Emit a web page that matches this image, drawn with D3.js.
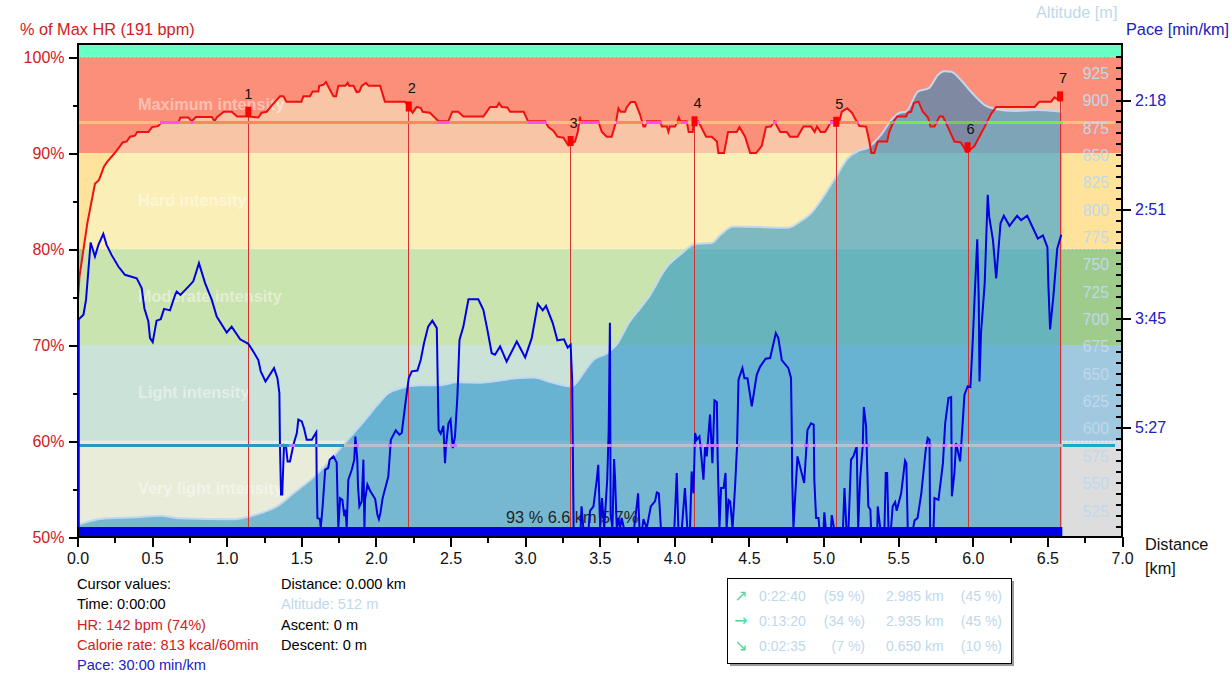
<!DOCTYPE html>
<html>
<head>
<meta charset="utf-8">
<script src="https://cdnjs.cloudflare.com/ajax/libs/d3/7.8.5/d3.min.js"></script>
<style>
	html, body { margin: 0; padding: 0; background: #fff; overflow: hidden; }
	text { font-family: "Liberation Sans", Arial, sans-serif; font-size: 14.6px; }
	.axis path { display: none; }
	.axis line { stroke: #000; stroke-width: 2px; shape-rendering: crispEdges; }
	.axis text { font-size: 16px; }
	.big { font-size: 16.3px; }
	.box text { font-size: 14px; }
</style>
</head>
<body>
<div id="chart"></div>
<script>
// heart rate, % of max : [km, %]
var hrKm = [0,.013,.066,.117,.144,.178,.2,.25,.303,.33,.352,.385,.40,.475,.5,.54,.564,.676,.69,.743,.765,.794,.9,.918,.933,.98,1.033,1.07,1.145,1.212,1.234,1.268,1.30,1.357,1.38,1.40,1.50,1.514,1.558,1.576,1.614,1.62,1.648,1.665,1.715,1.733,1.748,1.795,1.81,1.82,1.85,1.87,1.889,1.905,1.934,1.95,2.028,2.06,2.195,2.22,2.246,2.273,2.30,2.313,2.362,2.419,2.485,2.512,2.552,2.586,2.72,2.765,2.81,2.825,2.843,2.88,2.90,2.99,3.02,3.134,3.156,3.19,3.216,3.256,3.29,3.334,3.353,3.368,3.372,3.49,3.514,3.547,3.58,3.61,3.625,3.64,3.67,3.68,3.708,3.737,3.77,3.793,3.804,3.815,3.905,3.916,3.95,3.96,3.97,4.005,4.02,4.03,4.04,4.083,4.096,4.123,4.132,4.16,4.213,4.25,4.285,4.295,4.333,4.36,4.418,4.436,4.474,4.508,4.548,4.586,4.614,4.647,4.67,4.71,4.753,4.775,4.825,4.865,4.916,4.94,4.956,4.98,5.01,5.032,5.05,5.106,5.122,5.158,5.19,5.207,5.24,5.285,5.307,5.32,5.34,5.363,5.426,5.44,5.47,5.493,5.553,5.564,5.587,5.605,5.636,5.665,5.70,5.716,5.743,5.777,5.80,5.83,5.877,5.92,5.96,6.01,6.08,6.124,6.157,6.414,6.447,6.525,6.547,6.58,6.596];
var hrPct = [74,77.1,82.7,86.8,87.2,88.6,89.1,90,91.1,91.2,91.7,91.8,92.2,92.2,92.7,92.8,93.2,93.2,93.7,93.7,93.3,93.75,93.75,93.3,93.7,94.3,94.3,93.8,93.8,93.7,94.2,94.3,94.9,95.9,95.9,95.35,95.35,95.9,95.9,96.4,96.4,97,97.1,97.4,95.9,95.9,97,97,97.3,97,97,96.35,96.4,97,97.3,97,97,95.35,95.35,94.8,94.2,94.8,94.7,94.3,94.2,93.3,93.3,94.3,94.3,93.8,93.8,94.8,94.8,95.2,94.8,94.75,94.3,94.3,93.3,93.3,92.7,92.3,91.7,91.6,90.8,91.2,92.2,93.8,93.3,93.3,92.2,91.7,91.7,93.3,94.65,94.3,94.3,94.75,95.3,95.3,94,92.75,92.75,93.3,93.3,92.75,92.75,92.2,92.75,92.75,93.3,93.7,93.3,93.3,92.2,92.2,93.3,93.3,91.7,91.7,91.2,90,90,92.2,92.2,92.7,91.7,90,90,90.75,92.7,92.75,93.3,92.2,92.2,91.7,91.7,92.75,92.75,92.2,92.75,92.2,92.2,92.75,93.3,93.3,94.3,94.65,94.2,93.7,92.8,92.75,91.2,90,90,91.2,91.2,92.2,93.3,93.8,93.8,94.2,94.3,95.2,95.35,94.3,93.7,92.75,92.75,93.8,93.8,92.8,91.2,91.1,90.1,90.7,92.75,94.1,94.8,94.8,95.35,95.35,95.8,95.5,95.9];

// altitude, m
var altKm = [0,.084,.195,.397,.553,.688,1.045,1.145,1.245,1.335,1.446,1.60,1.76,1.85,1.938,2.01,2.083,2.16,2.296,2.43,2.54,2.70,2.92,3.055,3.167,3.31,3.41,3.457,3.547,3.613,3.70,3.77,3.826,3.949,4.05,4.139,4.25,4.306,4.395,4.764,4.842,4.916,4.983,5.084,5.16,5.23,5.296,5.386,5.452,5.51,5.553,5.63,5.71,5.766,5.81,5.855,5.92,5.99,6.08,6.147,6.28,6.44,6.596];
var altM = [512,515.9,518.3,519.2,520.7,518.3,517.4,519.8,523.8,529,541,558,582,596,610,622,632.6,637,640,640,642.6,642.3,646,647,643,639,655,663,669,677,698,710,720,748,760.5,769,770,777,785,784,789.5,797,809,830.6,847,854,857,869,882,889,890,908,912,923.5,927,926.6,919,908,896,892.5,890.6,891.5,890];

// speed, km/h (the pace axis is linear in speed)
var speedKm = [0,.002,.005,.04,.057,.088,.117,.14,.173,.195,.229,.274,.318,.397,.43,.44,.448,.475,.486,.504,.53,.558,.58,.62,.654,.665,.69,.743,.776,.814,.855,.90,.933,1.0,1.033,1.09,1.145,1.178,1.212,1.228,1.26,1.317,1.34,1.353,1.357,1.364,1.372,1.384,1.397,1.408,1.424,1.447,1.47,1.48,1.503,1.518,1.536,1.57,1.6,1.603,1.608,1.625,1.63,1.643,1.66,1.68,1.69,1.715,1.737,1.744,1.748,1.76,1.775,1.788,1.797,1.804,1.815,1.838,1.855,1.862,1.875,1.88,1.889,1.905,1.916,1.923,1.927,1.943,1.96,1.995,2.01,2.02,2.03,2.045,2.083,2.1,2.133,2.157,2.173,2.195,2.22,2.24,2.278,2.30,2.322,2.35,2.378,2.408,2.414,2.42,2.434,2.452,2.463,2.47,2.486,2.5,2.515,2.53,2.546,2.56,2.586,2.62,2.686,2.72,2.747,2.776,2.798,2.832,2.876,2.944,3.0,3.044,3.085,3.118,3.14,3.185,3.216,3.26,3.285,3.305,3.315,3.325,3.372,3.378,3.39,3.425,3.435,3.458,3.48,3.49,3.503,3.515,3.53,3.55,3.56,3.568,3.573,3.585,3.596,3.603,3.614,3.625,3.636,3.647,3.662,3.73,3.739,3.757,3.766,3.785,3.793,3.815,3.842,3.87,3.883,3.896,3.91,4.0,4.016,4.027,4.05,4.071,4.087,4.105,4.116,4.128,4.139,4.15,4.168,4.184,4.195,4.206,4.217,4.239,4.255,4.269,4.285,4.29,4.302,4.313,4.33,4.343,4.35,4.363,4.374,4.39,4.407,4.42,4.43,4.456,4.47,4.49,4.519,4.552,4.575,4.612,4.642,4.68,4.697,4.72,4.764,4.782,4.787,4.79,4.798,4.825,4.87,4.892,4.916,4.934,4.938,4.95,4.966,4.972,5.0,5.005,5.015,5.05,5.055,5.07,5.13,5.14,5.153,5.167,5.184,5.2,5.222,5.232,5.245,5.262,5.27,5.285,5.3,5.314,5.318,5.36,5.363,5.38,5.408,5.417,5.426,5.435,5.452,5.463,5.48,5.49,5.52,5.546,5.555,5.564,5.6,5.61,5.63,5.655,5.687,5.698,5.71,5.714,5.737,5.743,5.77,5.8,5.815,5.837,5.855,5.86,5.877,5.888,5.915,5.933,5.944,5.966,5.984,6.0,6.016,6.03,6.04,6.045,6.055,6.08,6.1,6.11,6.135,6.157,6.186,6.208,6.246,6.297,6.324,6.365,6.436,6.47,6.5,6.507,6.518,6.54,6.566,6.593];
var speedKmh = [6,15.94,15.94,16.17,16.85,19.48,18.84,19.37,19.87,19.37,18.9,18.38,18,17.84,17.39,16.9,16.47,15.86,15.1,14.92,15.9,15.97,16.44,16.37,17.08,17.23,17.08,17.46,17.7,18.53,17.62,16.85,16.09,15.36,15.63,15.05,14.84,14.49,14.1,13.58,13.12,13.73,13.27,12.59,10.15,7.94,7.94,10.2,10.15,9.46,9.46,10.22,10.76,11.37,11.29,10.98,10.45,10.45,10.79,8.77,6.87,6.82,6.4,7.4,9.08,9.15,9.54,9.69,9.41,7.4,6.4,7.78,7.7,6.95,7.25,6.4,8.62,9.08,9.54,10.6,9.54,8.32,7.4,7.63,9.54,6.4,7.7,8.4,8.13,7.74,7.02,6.82,7.1,7.78,8.77,10.45,10.88,10.68,10.76,11.98,13.27,13.58,13.62,14.1,14.87,15.63,15.9,15.56,13.2,10.9,10.73,11.09,9.38,10.22,11.2,11.37,10.07,10.6,12.43,15.02,15.63,16.88,16.88,16.4,15.48,14.41,14.34,14.72,14.03,14.95,14.22,15.1,16.67,16.37,16.58,15.79,15,15.05,14.67,14.8,13.2,6.4,6.4,7.4,6.4,6.4,7.2,7.4,8.62,9.3,6.4,7.78,6.4,8.62,10.9,15.8,7,6.4,9.57,8.62,6.4,6.87,6.4,6.87,6.4,6.4,6.87,8,6.4,6.4,6.82,6.4,7.4,7.63,8.04,8,6.4,6.4,8.93,6.4,6.4,8.24,6.4,6.4,9,8,10.76,10.45,10.6,9.46,8.62,10.15,9.69,11.6,9.38,12.25,12.17,9.7,6.4,8.24,8.24,8.93,6.4,7.7,7.63,6.4,8.32,10.15,13.2,13.73,13.27,13.27,11.98,13.42,13.8,14.16,14.19,15.33,15.1,14.1,13.73,13.27,10.9,8.62,6.4,9.69,8.47,10.9,11.2,11.14,8.62,6.87,6.87,6.4,6.4,7.13,6.4,6.4,7,6.4,6.4,8.24,6.4,6.4,9.54,9.69,10.15,6.4,8.62,10.15,11.95,11.06,7.4,7.25,6.4,6.4,7.4,6.4,6.4,8.93,8.93,6.4,6.4,7.4,7.6,7.2,8,9.5,9.38,6.4,6.4,6.76,6.87,8,10.15,10.53,10.45,6.4,6.4,7.78,7.7,9.38,11.2,12.36,12.4,7.86,8.93,10.3,9.46,11.29,12.5,12.9,12.86,15.02,17.54,19.63,16.85,13.12,15.33,17.62,21.66,20.66,19.6,17.84,20.36,20.7,20.24,20.7,20.5,20.7,19.66,19.8,19.26,17.46,15.5,17,19.2,19.83];

// laps
var lapKm = [1.145, 2.22, 3.305, 4.135, 5.085, 5.965, 6.585];
var lapHr = [94.3, 94.85, 91.25, 93.3, 93.25, 90.6, 95.9];
var lapNames = ['1', '2', '3', '4', '5', '6', '7'];

// zones
var zoneTop = [101.4, 100, 90, 80, 70, 60];
var zoneBottom = [100, 90, 80, 70, 60, 50];
var zoneColors = ['#66ffc4', '#fb8f79', '#ffe39b', '#9fcc8c', '#a0c9df', '#dddddd'];
var zoneNames = ['Maximum intensity', 'Hard intensity', 'Moderate intensity', 'Light intensity', 'Very light intensity'];
var zoneNameHr = [95, 85, 75, 65, 55];
var dashedHr = [100, 80, 60];

var upperHr = 93.18, lowerHr = 59.58, endKm = 6.6;

// axes
var kmTicks = [0, .5, 1, 1.5, 2, 2.5, 3, 3.5, 4, 4.5, 5, 5.5, 6, 6.5, 7];
var kmMinor = [.25, .75, 1.25, 1.75, 2.25, 2.75, 3.25, 3.75, 4.25, 4.75, 5.25, 5.75, 6.25, 6.75];
var hrTicks = [50, 60, 70, 80, 90, 100];
var hrMinor = [55, 65, 75, 85, 95];
var altTicks = [525, 550, 575, 600, 625, 650, 675, 700, 725, 750, 775, 800, 825, 850, 875, 900, 925];
var speedTicks = [11, 16, 21, 26];
var paceLabels = ['5:27', '3:45', '2:51', '2:18'];

// bottom texts
var cursorLines = ['Cursor values:', 'Time: 0:00:00', 'HR: 142 bpm (74%)', 'Calorie rate: 813 kcal/60min', 'Pace: 30:00 min/km'];
var cursorColors = ['#000', '#000', '#d02020', '#d02020', '#2020c0'];
var statLines = ['Distance: 0.000 km', 'Altitude: 512 m', 'Ascent: 0 m', 'Descent: 0 m'];
var statColors = ['#000', '#c0d8ec', '#000', '#000'];
var slopeTime = ['0:22:40', '0:13:20', '0:02:35'];
var slopeTimePct = ['(59 %)', '(34 %)', '(7 %)'];
var slopeDist = ['2.985 km', '2.935 km', '0.650 km'];
var slopeDistPct = ['(45 %)', '(45 %)', '(10 %)'];
var slopeArrows = ['\u2197', '\u2192', '\u2198'];

var W = 1231, H = 677
	, x = d3.scaleLinear().domain([0, 7]).range([77.5, 1122])
	, y = d3.scaleLinear().domain([50, 100]).range([537, 57])
	, yAlt = d3.scaleLinear().domain([525, 925]).range([511, 73.4])
	, ySpeed = d3.scaleLinear().domain([6, 26]).range([537, 100])
	, lightBlue = '#c0d8ec'
	, red = '#d02020'
	, blue = '#2020c0'
	, hrWash = [245, 252, 212]
	, altWash = [4, 132, 202]
	;

var svg = d3.select('#chart').append('svg').attr('width', W).attr('height', H);
svg.append('defs').append('clipPath').attr('id', 'plot').append('rect')
	.attr('x', x(0)).attr('y', y(101.4)).attr('width', x(7) - x(0)).attr('height', y(50) - y(101.4));
var plot = svg.append('g').attr('clip-path', 'url(#plot)');

// zone bands
plot.selectAll('.zone').data(zoneColors).enter().append('rect').attr('class', 'zone')
	.attr('x', x(0)).attr('width', x(7) - x(0))
	.attr('y', function(d, i){ return y(zoneTop[i]); })
	.attr('height', function(d, i){ return y(zoneBottom[i]) - y(zoneTop[i]); })
	.attr('fill', function(d){ return d; });
plot.selectAll('.dash').data(dashedHr).enter().append('line').attr('class', 'dash')
	.attr('x1', x(0)).attr('x2', x(7)).attr('y1', function(d){ return y(d); }).attr('y2', function(d){ return y(d); })
	.attr('stroke', '#fff').attr('stroke-opacity', .6).attr('stroke-dasharray', '2 2');

// area under the HR curve
var hrRows = d3.zip(hrKm, hrPct), altRows = d3.zip(altKm, altM), speedRows = d3.zip(speedKm, speedKmh);
var hrArea = d3.area().x(function(d){ return x(d[0]); }).y0(y(50)).y1(function(d){ return y(d[1]); });
plot.append('path').attr('d', hrArea(hrRows)).attr('fill', 'rgb(' + hrWash + ')').attr('fill-opacity', .5);

// zone names
plot.selectAll('.zname').data(zoneNames).enter().append('text').attr('class', 'zname big')
	.attr('x', 138).attr('y', function(d, i){ return y(zoneNameHr[i]) + 5; })
	.attr('fill', '#fff').attr('fill-opacity', .45).style('font-weight', 'bold')
	.text(function(d){ return d; });

// altitude
var altArea = d3.area().curve(d3.curveMonotoneX).x(function(d){ return x(d[0]); }).y0(y(50)).y1(function(d){ return yAlt(d[1]); });
plot.append('path').attr('d', altArea(altRows)).attr('fill', 'rgb(' + altWash + ')').attr('fill-opacity', .5);
plot.append('path').attr('d', d3.line().curve(d3.curveMonotoneX).x(function(d){ return x(d[0]); }).y(function(d){ return yAlt(d[1]); })(altRows))
	.attr('fill', 'none').attr('stroke', '#c0d8f0').attr('stroke-width', 2);

// lap lines, snapped to an even pixel so a 1px red line keeps its colour
var lapX = function(d){ return Math.round(x(d) / 2) * 2 + .5; };
plot.selectAll('.lap').data(lapKm).enter().append('line').attr('class', 'lap')
	.attr('x1', lapX).attr('x2', lapX)
	.attr('y1', function(d, i){ return y(lapHr[i]); }).attr('y2', y(50) - 10)
	.attr('stroke', '#d83030').attr('stroke-width', 1);

plot.append('text').attr('class', 'big').attr('x', 506).attr('y', 523).attr('fill', '#222').text('93 % 6.6 km 5.7%');

// speed and heart rate lines
plot.append('path').attr('d', d3.line().x(function(d){ return x(d[0]); }).y(function(d){ return ySpeed(d[1]); })(speedRows))
	.attr('fill', 'none').attr('stroke', '#0000e0').attr('stroke-width', 2);
plot.append('rect').attr('x', x(0)).attr('width', x(endKm) - x(0)).attr('y', y(50) - 10).attr('height', 10).attr('fill', '#0000e6');
plot.append('path').attr('d', d3.line().x(function(d){ return x(d[0]); }).y(function(d){ return y(d[1]); })(hrRows))
	.attr('fill', 'none').attr('stroke', '#f01010').attr('stroke-width', 2);

// the two limit lines are XOR pens in the original: recompute the colour under each pixel
var bisect = d3.bisector(function(d){ return d[0]; }).left;
function valueAt(rows, km){
	var i = bisect(rows, km);
	if( i <= 0 ) return rows[0][1];
	if( i >= rows.length ) return rows[rows.length - 1][1];
	var a = rows[i - 1], b = rows[i];
	return a[1] + (b[1] - a[1]) * (km - a[0]) / (b[0] - a[0]);
}
function mix(under, over, alpha){
	return under.map(function(c, i){ return c * (1 - alpha) + over[i] * alpha; });
}
function xorColor(c, mask){
	return 'rgb(' + c.map(function(v, i){ return Math.round(v) ^ mask[i]; }).join(',') + ')';
}
function penColor(km, hr, mask, zone){
	var c = d3.color(zoneColors[zone]);
	c = [c.r, c.g, c.b];
	if( km <= endKm && valueAt(hrRows, km) > hr ) c = mix(c, hrWash, .5);
	if( km <= endKm && valueAt(altRows, km) > yAlt.invert(y(hr)) ) c = mix(c, altWash, .5);
	return xorColor(c, mask);
}
function drawPen(hr, mask, zone, lineColor, crossings){
	var pixels = d3.range(Math.ceil(x(0)) + 1, 1115);
	plot.append('g').attr('shape-rendering', 'crispEdges').selectAll('rect').data(pixels).enter().append('rect')
		.attr('x', function(d){ return d; }).attr('y', Math.round(y(hr)) - 1).attr('width', 1).attr('height', 3)
		.attr('fill', function(d){
			var km = x.invert(d);
			return km <= endKm && crossings(km) ? xorColor(lineColor, mask) : penColor(km, hr, mask, zone);
		});
}
drawPen(upperHr, [0, 0x4f, 0xf9], 1, [255, 0, 0], function(km){
	return Math.abs(valueAt(hrRows, km) - upperHr) < .2;
});
var lowerSpeed = ySpeed.invert(y(lowerHr));
drawPen(lowerHr, [0xc2, 0x7a, 0x1a], 5, [0, 0, 224], function(km){
	var step = 1 / 149.2;
	return speedRows.some(function(d, i){
		if( !i ) return false;
		var a = speedRows[i - 1];
		return a[0] <= km + step && d[0] >= km - step && (a[1] - lowerSpeed) * (d[1] - lowerSpeed) <= 0;
	});
});

// lap markers
plot.selectAll('.mark').data(lapKm).enter().append('rect').attr('class', 'mark')
	.attr('x', function(d){ return x(d) - 3; }).attr('y', function(d, i){ return y(lapHr[i]) - 5; })
	.attr('width', 6).attr('height', 10).attr('fill', '#ff0000');
svg.selectAll('.lapname').data(lapNames).enter().append('text').attr('class', 'lapname')
	.attr('x', function(d, i){ return x(lapKm[i]) + (i ? 3 : 0); }).attr('y', function(d, i){ return y(lapHr[i]) - 13; })
	.attr('text-anchor', 'middle').attr('fill', '#111').text(function(d){ return d; });

// altitude labels
svg.selectAll('.altlabel').data(altTicks).enter().append('text').attr('class', 'altlabel')
	.attr('x', 1109).attr('y', function(d){ return yAlt(d) + 5.5; }).attr('text-anchor', 'end')
	.attr('fill', lightBlue).style('font-size', '15.7px').text(function(d){ return d; });

// frame and axes
svg.append('rect').attr('x', x(0)).attr('y', y(101.4)).attr('width', x(7) - x(0)).attr('height', y(50) - y(101.4))
	.attr('fill', 'none').attr('stroke', '#000').attr('stroke-width', 2).attr('shape-rendering', 'crispEdges');

// the first speed sample runs straight up the left axis, over the frame
svg.append('line').attr('x1', x(0) + 1).attr('x2', x(0) + 1)
	.attr('y1', ySpeed(speedKmh[1])).attr('y2', y(50) - 10)
	.attr('stroke', '#0000e0').attr('stroke-width', 2.5);

var gLeft = svg.append('g').attr('class', 'axis').attr('transform', 'translate(' + x(0) + ',0)');
gLeft.call(d3.axisLeft(y).tickValues(hrTicks).tickSize(9).tickPadding(4).tickFormat(function(d){ return d + '%'; }));
gLeft.selectAll('text').attr('fill', red);
svg.append('g').attr('class', 'axis').attr('transform', 'translate(' + x(0) + ',0)')
	.call(d3.axisLeft(y).tickValues(hrMinor).tickSize(5).tickFormat(''));

svg.append('g').attr('class', 'axis').attr('transform', 'translate(0,' + y(50) + ')')
	.call(d3.axisBottom(x).tickValues(kmTicks).tickSize(10).tickPadding(6).tickFormat(d3.format('.1f')))
	.selectAll('text').attr('fill', '#111');
svg.append('g').attr('class', 'axis').attr('transform', 'translate(0,' + y(50) + ')')
	.call(d3.axisBottom(x).tickValues(kmMinor).tickSize(6).tickFormat(''));

svg.append('g').attr('class', 'axis').attr('transform', 'translate(' + x(7) + ',0)')
	.call(d3.axisLeft(ySpeed).tickValues(d3.range(6.5, 28.5, .5)).tickSize(6).tickFormat(''));
var gPace = svg.append('g').attr('class', 'axis').attr('transform', 'translate(' + x(7) + ',0)');
gPace.call(d3.axisRight(ySpeed).tickValues(speedTicks).tickSize(9).tickPadding(4)
	.tickFormat(function(d, i){ return paceLabels[i]; }));
gPace.selectAll('text').attr('fill', blue);

// axis titles
svg.append('text').attr('class', 'big').attr('x', 20).attr('y', 35).attr('fill', red).text('% of Max HR (191 bpm)');
svg.append('text').attr('class', 'big').attr('x', 1036).attr('y', 18).attr('fill', lightBlue).text('Altitude [m]');
svg.append('text').attr('class', 'big').attr('x', 1126).attr('y', 35).attr('fill', blue).text('Pace [min/km]');
svg.append('text').attr('class', 'big').attr('x', 1145).attr('y', 550).attr('fill', '#111').text('Distance');
svg.append('text').attr('class', 'big').attr('x', 1145).attr('y', 574).attr('fill', '#111').text('[km]');

// cursor values
svg.selectAll('.cursor').data(cursorLines).enter().append('text').attr('class', 'cursor')
	.attr('x', 77).attr('y', function(d, i){ return 589 + i * 20.3; })
	.attr('fill', function(d, i){ return cursorColors[i]; }).text(function(d){ return d; });
svg.selectAll('.stat').data(statLines).enter().append('text').attr('class', 'stat')
	.attr('x', 281).attr('y', function(d, i){ return 589 + i * 20.3; })
	.attr('fill', function(d, i){ return statColors[i]; }).text(function(d){ return d; });

// slope box
var box = svg.append('g').attr('class', 'box');
box.append('rect').attr('x', 730).attr('y', 581).attr('width', 284).attr('height', 85).attr('fill', '#999');
box.append('rect').attr('x', 727.5).attr('y', 578.5).attr('width', 284).attr('height', 85).attr('fill', '#fff').attr('stroke', '#000');
var slopeRow = function(list, xpos, anchor, color){
	return box.append('g').selectAll('text').data(list).enter().append('text')
		.attr('x', xpos).attr('y', function(d, i){ return 601 + i * 25; })
		.attr('text-anchor', anchor).attr('fill', color).text(function(d){ return d; });
};
slopeRow(slopeArrows, 741, 'middle', '#50d8a8').style('font-family', '"DejaVu Sans"').style('font-size', '16px');
slopeRow(slopeTime, 759, 'start', lightBlue);
slopeRow(slopeTimePct, 865, 'end', lightBlue);
slopeRow(slopeDist, 886, 'start', lightBlue);
slopeRow(slopeDistPct, 1002, 'end', lightBlue);
</script>
</body>
</html>
